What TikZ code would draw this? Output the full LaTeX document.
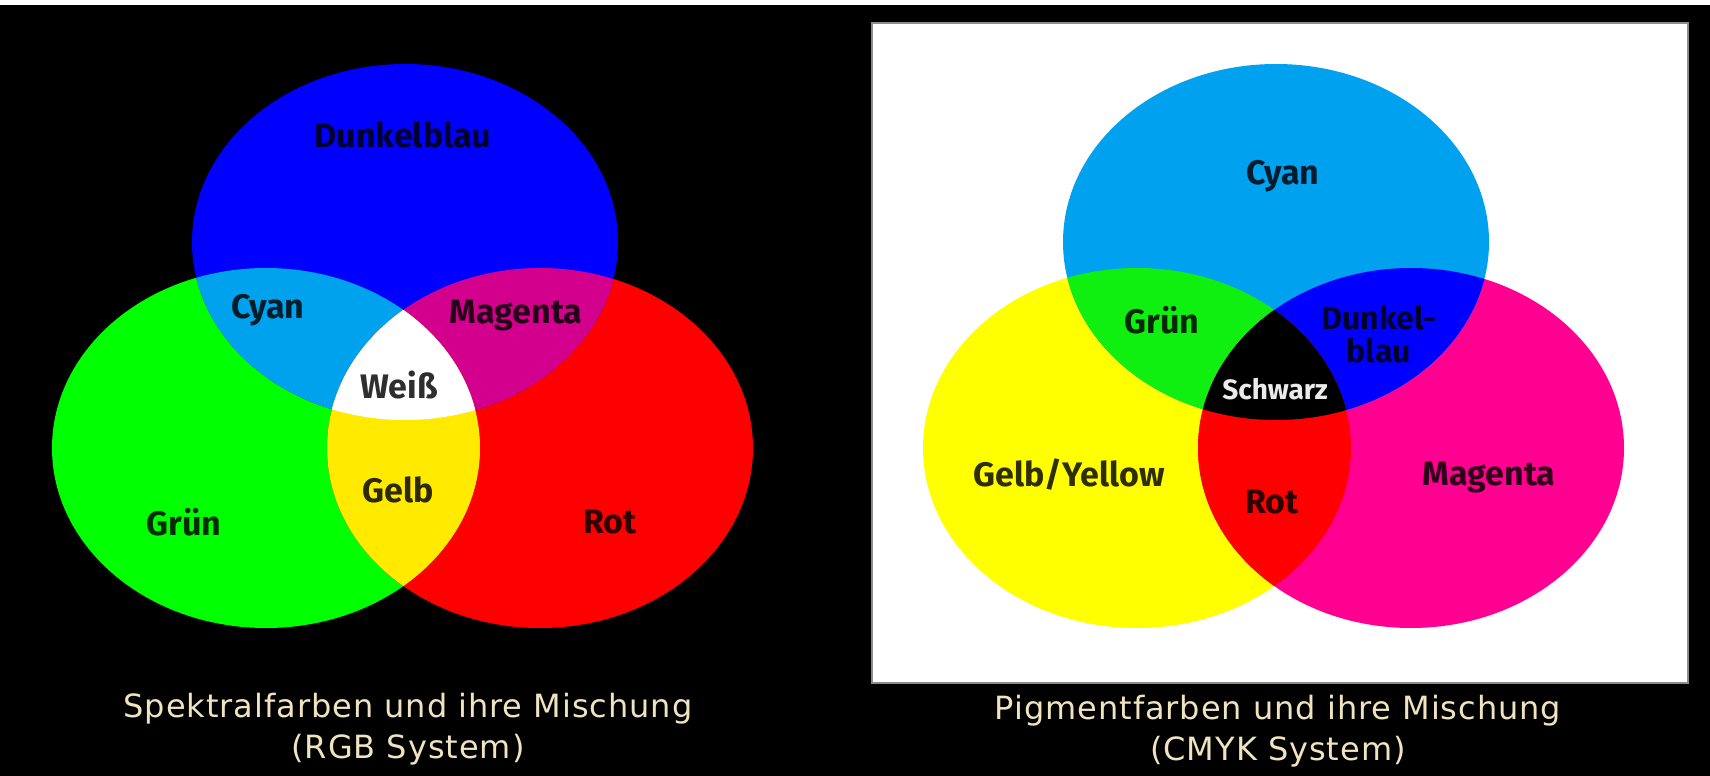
\documentclass[tikz,border=0pt]{standalone}
\usepackage{fontspec}
\usepackage{tikz}
\newfontfamily\lblfont{Fira Sans}
\newfontfamily\capfont[LetterSpace=3]{DejaVu Sans}
\definecolor{rgbblue}{HTML}{0000FF}
\definecolor{rgbgreen}{HTML}{00FF00}
\definecolor{rgbred}{HTML}{FF0000}
\definecolor{mixcyan}{HTML}{00A2EE}
\definecolor{mixmagenta}{HTML}{D2008C}
\definecolor{mixyellow}{HTML}{FFEA00}
\definecolor{pigcyan}{HTML}{00A2F0}
\definecolor{pigyellow}{HTML}{FFFF00}
\definecolor{pigmagenta}{HTML}{FF0090}
\definecolor{piggreen}{HTML}{10F010}
\definecolor{captext}{HTML}{F0E4C0}
\tikzset{
  lbl/.style={font=\lblfont\bfseries\fontsize{34}{36}\selectfont, text=black, text opacity=0.82, align=center, inner sep=0pt},
  lblsmall/.style={font=\lblfont\bfseries\fontsize{28}{30}\selectfont, text=white!92!black, inner sep=0pt},
  caption/.style={font=\capfont\fontsize{32}{41}\selectfont, text=captext, align=center, inner sep=0pt}
}
% three overlapping ellipses, pixel units
\def\ellT{(405,242) ellipse [x radius=213pt, y radius=178pt]}
\def\ellL{(266,448) ellipse [x radius=214pt, y radius=180pt]}
\def\ellR{(540,448) ellipse [x radius=213pt, y radius=180pt]}
\begin{document}
\begin{tikzpicture}[x=1pt, y=-1pt]
  \fill[black] (0,0) rectangle (1710,776);
  \useasboundingbox (0,0) rectangle (1710,776);
  \fill[white] (0,0) rectangle (1710,5);

  % RGB
  \fill[rgbgreen] \ellL;
  \fill[rgbred] \ellR;
  \fill[rgbblue] \ellT;
  \begin{scope}
    \clip \ellT;
    \fill[mixcyan] \ellL;
    \fill[mixmagenta] \ellR;
  \end{scope}
  \begin{scope}
    \clip \ellL;
    \fill[mixyellow] \ellR;
    \clip \ellT;
    \fill[white] \ellR;
  \end{scope}

  \node[lbl] (rgbDunkelblau) at (403,135) {Dunkelblau};
  \node[lbl] (rgbCyan) at (268,310) {Cyan};
  \node[lbl] (rgbMagenta) at (516,315) {Magenta};
  \node[lbl] (rgbWeiss) at (399,385) {Weiß};
  \node[lbl] (rgbGelb) at (398,490) {Gelb};
  \node[lbl] (rgbGruen) at (184,522) {Grün};
  \node[lbl] (rgbRot) at (610,522) {Rot};
  \node[caption] (rgbCaption) at (408,729) {Spektralfarben und ihre Mischung\\(RGB System)};

  % CMYK
  \fill[white, draw=black!45, line width=1.5pt] (872,23) rectangle (1688,683);
  \begin{scope}[xshift=871pt]
    \fill[pigyellow] \ellL;
    \fill[pigmagenta] \ellR;
    \fill[pigcyan] \ellT;
    \begin{scope}
      \clip \ellT;
      \fill[piggreen] \ellL;
      \fill[rgbblue] \ellR;
    \end{scope}
    \begin{scope}
      \clip \ellL;
      \fill[rgbred] \ellR;
      \clip \ellT;
      \fill[black] \ellR;
    \end{scope}
  \end{scope}

  \node[lbl] (cmykCyan) at (1283,176) {Cyan};
  \node[lbl] (cmykGruen) at (1162,320) {Grün};
  \node[lbl, font=\lblfont\bfseries\fontsize{32}{33}\selectfont] (cmykDunkelblau) at (1379,334) {Dunkel-\\blau};
  \node[lblsmall] (cmykSchwarz) at (1275,389) {Schwarz};
  \node[lbl] (cmykGelb) at (1069,475) {Gelb/Yellow};
  \node[lbl] (cmykRot) at (1272,502) {Rot};
  \node[lbl] (cmykMagenta) at (1489,477) {Magenta};
  \node[caption] (cmykCaption) at (1278,731) {Pigmentfarben und ihre Mischung\\(CMYK System)};
\end{tikzpicture}
\end{document}
